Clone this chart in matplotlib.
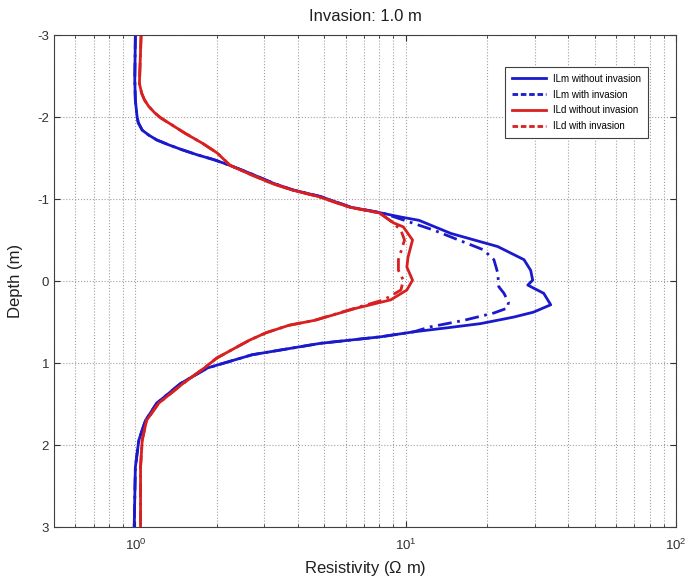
import numpy as np
import matplotlib
matplotlib.use('Agg')
import matplotlib.pyplot as plt
from matplotlib.lines import Line2D
from matplotlib.ticker import LogLocator, FixedLocator

plt.rcParams['font.family'] = ['Liberation Sans', 'DejaVu Sans']
plt.rcParams['mathtext.fontset'] = 'custom'
plt.rcParams['mathtext.rm'] = 'Liberation Sans'

# ILm without invasion (solid blue)
ilm_depth = [-3.0, -2.45, -2.2, -2.0, -1.93, -1.84, -1.78, -1.72, -1.66, -1.60, -1.54,
             -1.48, -1.41, -1.31, -1.19, -1.11, -1.03, -0.90, -0.83, -0.78, -0.74,
             -0.58, -0.42, -0.26, -0.13, -0.01, 0.05, 0.15, 0.29, 0.38, 0.44, 0.52,
             0.57, 0.62, 0.68, 0.76, 0.90, 1.06, 1.25, 1.49, 1.70, 1.94, 2.27, 3.0]
ilm_res = [1.0, 0.995, 1.0, 1.015, 1.025, 1.06, 1.12, 1.20, 1.33, 1.49, 1.69,
           1.95, 2.24, 2.67, 3.25, 3.83, 4.84, 6.26, 8.1, 9.6, 11.2,
           14.7, 21.9, 27.4, 29.0, 29.5, 28.3, 32.4, 34.4, 29.7, 25.1, 18.9,
           14.3, 10.7, 8.1, 4.84, 2.7, 1.85, 1.47, 1.2, 1.09, 1.03, 1.0, 0.99]

# ILm with invasion (dash-dot blue)
ilm_inv_depth = [-3.0, -2.45, -2.2, -2.0, -1.93, -1.84, -1.78, -1.72, -1.66, -1.60, -1.54,
                 -1.48, -1.41, -1.31, -1.19, -1.11, -1.03, -0.90, -0.83, -0.62, -0.38,
                 -0.26, -0.10, 0.07, 0.15, 0.26, 0.33, 0.39, 0.48, 0.56, 0.62, 0.68,
                 0.76, 0.90, 1.06, 1.25, 1.49, 1.70, 1.94, 2.27, 3.0]
ilm_inv_res = [1.0, 0.995, 1.0, 1.015, 1.025, 1.06, 1.12, 1.20, 1.33, 1.49, 1.69,
               1.95, 2.24, 2.67, 3.25, 3.83, 4.84, 6.26, 8.2, 12.7, 19.4,
               21.2, 21.9, 22.1, 23.1, 24.0, 23.8, 21.2, 16.4, 12.3, 10.7, 8.1,
               4.84, 2.7, 1.85, 1.47, 1.2, 1.09, 1.03, 1.0, 0.99]

# ILd without invasion (solid red)
ild_depth = [-3.0, -2.41, -2.29, -2.21, -2.13, -2.05, -1.99, -1.90, -1.80, -1.68, -1.56,
             -1.41, -1.31, -1.19, -1.11, -1.03, -0.90, -0.83, -0.71, -0.66, -0.50,
             -0.29, -0.17, -0.01, 0.11, 0.23, 0.33, 0.48, 0.54, 0.63, 0.72,
             0.83, 0.94, 1.06, 1.25, 1.49, 1.70, 1.94, 2.27, 3.0]
ild_res = [1.05, 1.035, 1.055, 1.08, 1.12, 1.18, 1.24, 1.37, 1.53, 1.77, 2.01,
           2.24, 2.62, 3.2, 3.8, 4.75, 6.2, 8.0, 9.0, 9.8, 10.6,
           10.2, 10.1, 10.6, 10.1, 8.8, 6.6, 4.6, 3.7, 3.05, 2.65,
           2.3, 2.0, 1.8, 1.5, 1.22, 1.1, 1.06, 1.045, 1.045]

# ILd with invasion (dash-dot red)
ild_inv_depth = [-3.0, -2.41, -2.29, -2.21, -2.13, -2.05, -1.99, -1.90, -1.80, -1.68, -1.56,
                 -1.41, -1.31, -1.19, -1.11, -1.03, -0.90, -0.83, -0.72, -0.62, -0.50,
                 -0.26, -0.13, -0.01, 0.11, 0.23, 0.33, 0.48, 0.54, 0.63, 0.72,
                 0.83, 0.94, 1.06, 1.25, 1.49, 1.70, 1.94, 2.27, 3.0]
ild_inv_res = [1.05, 1.035, 1.055, 1.08, 1.12, 1.18, 1.24, 1.37, 1.53, 1.77, 2.01,
               2.24, 2.62, 3.2, 3.8, 4.75, 6.2, 8.0, 8.9, 9.6, 9.9,
               9.4, 9.4, 9.8, 9.6, 8.3, 6.5, 4.6, 3.7, 3.05, 2.65,
               2.3, 2.0, 1.8, 1.5, 1.22, 1.1, 1.06, 1.045, 1.045]

labels = ['ILm without invasion', 'ILm with invasion',
          'ILd without invasion', 'ILd with invasion']

blue = '#1a1acc'
red = '#d82020'
dashdot = (0, (5, 2, 1, 2))

fig = plt.figure(figsize=(6.88, 5.78), dpi=100)
ax = fig.add_axes([54/688, 51/578, 622/688, 492/578])

ax.plot(ilm_res, ilm_depth, color=blue, lw=2.0, solid_joinstyle='round')
ax.plot(ilm_inv_res, ilm_inv_depth, color=blue, lw=2.0, ls=dashdot)
ax.plot(ild_res, ild_depth, color=red, lw=2.0, solid_joinstyle='round')
ax.plot(ild_inv_res, ild_inv_depth, color=red, lw=2.0, ls=dashdot)

ax.set_xscale('log')
ax.set_xlim(0.5, 100)
ax.set_ylim(3, -3)
ax.yaxis.set_major_locator(FixedLocator([-3, -2, -1, 0, 1, 2, 3]))
ax.set_yticklabels(['-3', '-2', '-1', '0', '1', '2', '3'])
ax.xaxis.set_major_locator(LogLocator(base=10, numticks=10))
ax.xaxis.set_minor_locator(LogLocator(base=10, subs=np.arange(2, 10), numticks=10))

ax.grid(True, which='major', axis='both', ls=':', color='#a0a0a0', lw=0.8)
ax.grid(True, which='minor', axis='x', ls=':', color='#a0a0a0', lw=0.8)
ax.tick_params(which='both', direction='in', top=True, right=True,
               labelsize=9.5, colors='#303030')
ax.tick_params(axis='x', which='major', pad=8)
ax.tick_params(which='major', length=4)
ax.tick_params(which='minor', length=2)
for s in ax.spines.values():
    s.set_color('#404040')
    s.set_linewidth(0.8)

ax.set_xlabel('Resistivity ($\\Omega$ m)', fontsize=12, color='#202020', labelpad=4)
ax.set_ylabel('Depth (m)', fontsize=12, color='#202020', labelpad=10)
ax.set_title('Invasion: 1.0 m', fontsize=12, color='#202020', pad=10)

handles = [Line2D([], [], color=blue, lw=2.0),
           Line2D([], [], color=blue, lw=2.0, ls=(0, (2, 1))),
           Line2D([], [], color=red, lw=2.0),
           Line2D([], [], color=red, lw=2.0, ls=(0, (2, 1)))]
leg = ax.legend(handles, labels, loc='upper right', bbox_to_anchor=(0.963, 0.945),
                fontsize=7, fancybox=False, edgecolor='#404040', framealpha=1,
                handlelength=3.5, borderpad=0.7, labelspacing=0.6)
leg.get_frame().set_linewidth(0.8)

fig.savefig('out.png', dpi=100)
